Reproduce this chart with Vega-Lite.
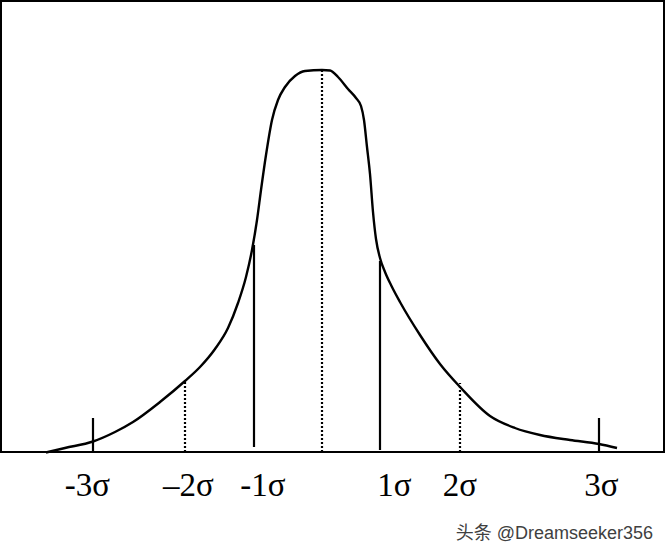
{
  "$schema": "https://vega.github.io/schema/vega-lite/v6.json",
  "autosize": {"type": "none"},
  "padding": {"left": 1, "top": 1, "right": 4, "bottom": 105},
  "width": 663,
  "height": 451,
  "background": "white",
  "config": {"view": {"stroke": "black", "strokeWidth": 2}},
  "datasets": {
    "curve": [
      {"x": 46, "y": -0.5}, {"x": 65, "y": 4}, {"x": 93, "y": 10.5}, {"x": 115, "y": 20},
      {"x": 133, "y": 30}, {"x": 160, "y": 50}, {"x": 185, "y": 71}, {"x": 200, "y": 85},
      {"x": 215, "y": 103}, {"x": 228, "y": 124}, {"x": 238, "y": 149}, {"x": 246, "y": 175},
      {"x": 252, "y": 202}, {"x": 257, "y": 232}, {"x": 261, "y": 262}, {"x": 266, "y": 297},
      {"x": 272, "y": 332}, {"x": 278, "y": 352}, {"x": 285, "y": 365}, {"x": 295, "y": 376},
      {"x": 305, "y": 381}, {"x": 322, "y": 382}, {"x": 330, "y": 381.5},
      {"x": 338, "y": 375}, {"x": 348, "y": 363}, {"x": 356, "y": 354}, {"x": 361, "y": 346},
      {"x": 364, "y": 332}, {"x": 367, "y": 305}, {"x": 370, "y": 278}, {"x": 373, "y": 240},
      {"x": 376, "y": 213}, {"x": 380, "y": 194}, {"x": 385, "y": 180}, {"x": 392, "y": 165},
      {"x": 400, "y": 150}, {"x": 420, "y": 117}, {"x": 440, "y": 88}, {"x": 461, "y": 64},
      {"x": 490, "y": 36}, {"x": 515, "y": 24}, {"x": 540, "y": 17}, {"x": 570, "y": 12},
      {"x": 599, "y": 8}, {"x": 617, "y": 4}
    ],
    "rules": [
      {"x": 93, "y": 0, "y2": 34, "kind": "solid"},
      {"x": 185, "y": 0, "y2": 72, "kind": "dotted"},
      {"x": 254, "y": 5, "y2": 207, "kind": "solid"},
      {"x": 322, "y": 0, "y2": 382, "kind": "dotted"},
      {"x": 380, "y": 2, "y2": 191, "kind": "solid"},
      {"x": 460, "y": 0, "y2": 69, "kind": "dotted"},
      {"x": 599, "y": 0, "y2": 34, "kind": "solid"}
    ],
    "labels": [
      {"x": 87.5, "y": -44, "text": "-3σ"},
      {"x": 188.5, "y": -44, "text": "–2σ"},
      {"x": 263, "y": -44, "text": "-1σ"},
      {"x": 394.5, "y": -44, "text": "1σ"},
      {"x": 460, "y": -44, "text": "2σ"},
      {"x": 601.5, "y": -44, "text": "3σ"}
    ]
  },
  "layer": [
    {
      "data": {"name": "curve"},
      "mark": {"type": "line", "interpolate": "monotone", "color": "black", "strokeWidth": 2.4},
      "encoding": {
        "x": {"field": "x", "type": "quantitative", "scale": {"domain": [1, 664], "nice": false, "zero": false}, "axis": null},
        "y": {"field": "y", "type": "quantitative", "scale": {"domain": [0, 451], "nice": false, "zero": false}, "axis": null}
      }
    },
    {
      "data": {"name": "rules"},
      "mark": {"type": "rule", "color": "black", "strokeWidth": 2.2},
      "encoding": {
        "x": {"field": "x", "type": "quantitative", "scale": {"domain": [1, 664], "nice": false, "zero": false}, "axis": null},
        "y": {"field": "y", "type": "quantitative", "scale": {"domain": [0, 451], "nice": false, "zero": false}, "axis": null},
        "y2": {"field": "y2"},
        "strokeDash": {
          "field": "kind", "type": "nominal",
          "scale": {"domain": ["solid", "dotted"], "range": [[1, 0], [2, 2]]},
          "legend": null
        }
      }
    },
    {
      "data": {"name": "labels"},
      "mark": {"type": "text", "font": "Liberation Serif", "fontSize": 33, "baseline": "alphabetic", "align": "center", "color": "black"},
      "encoding": {
        "x": {"field": "x", "type": "quantitative", "scale": {"domain": [1, 664], "nice": false, "zero": false}, "axis": null},
        "y": {"field": "y", "type": "quantitative", "scale": {"domain": [0, 451], "nice": false, "zero": false}, "axis": null},
        "text": {"field": "text"}
      }
    },
    {
      "data": {"values": [{"x": 653, "y": -87, "text": "头条 @Dreamseeker356"}]},
      "mark": {"type": "text", "font": "Liberation Sans, Noto Sans CJK SC", "fontSize": 18, "baseline": "alphabetic", "align": "right", "color": "#404040"},
      "encoding": {
        "x": {"field": "x", "type": "quantitative", "scale": {"domain": [1, 664], "nice": false, "zero": false}, "axis": null},
        "y": {"field": "y", "type": "quantitative", "scale": {"domain": [0, 451], "nice": false, "zero": false}, "axis": null},
        "text": {"field": "text"}
      }
    }
  ]
}
